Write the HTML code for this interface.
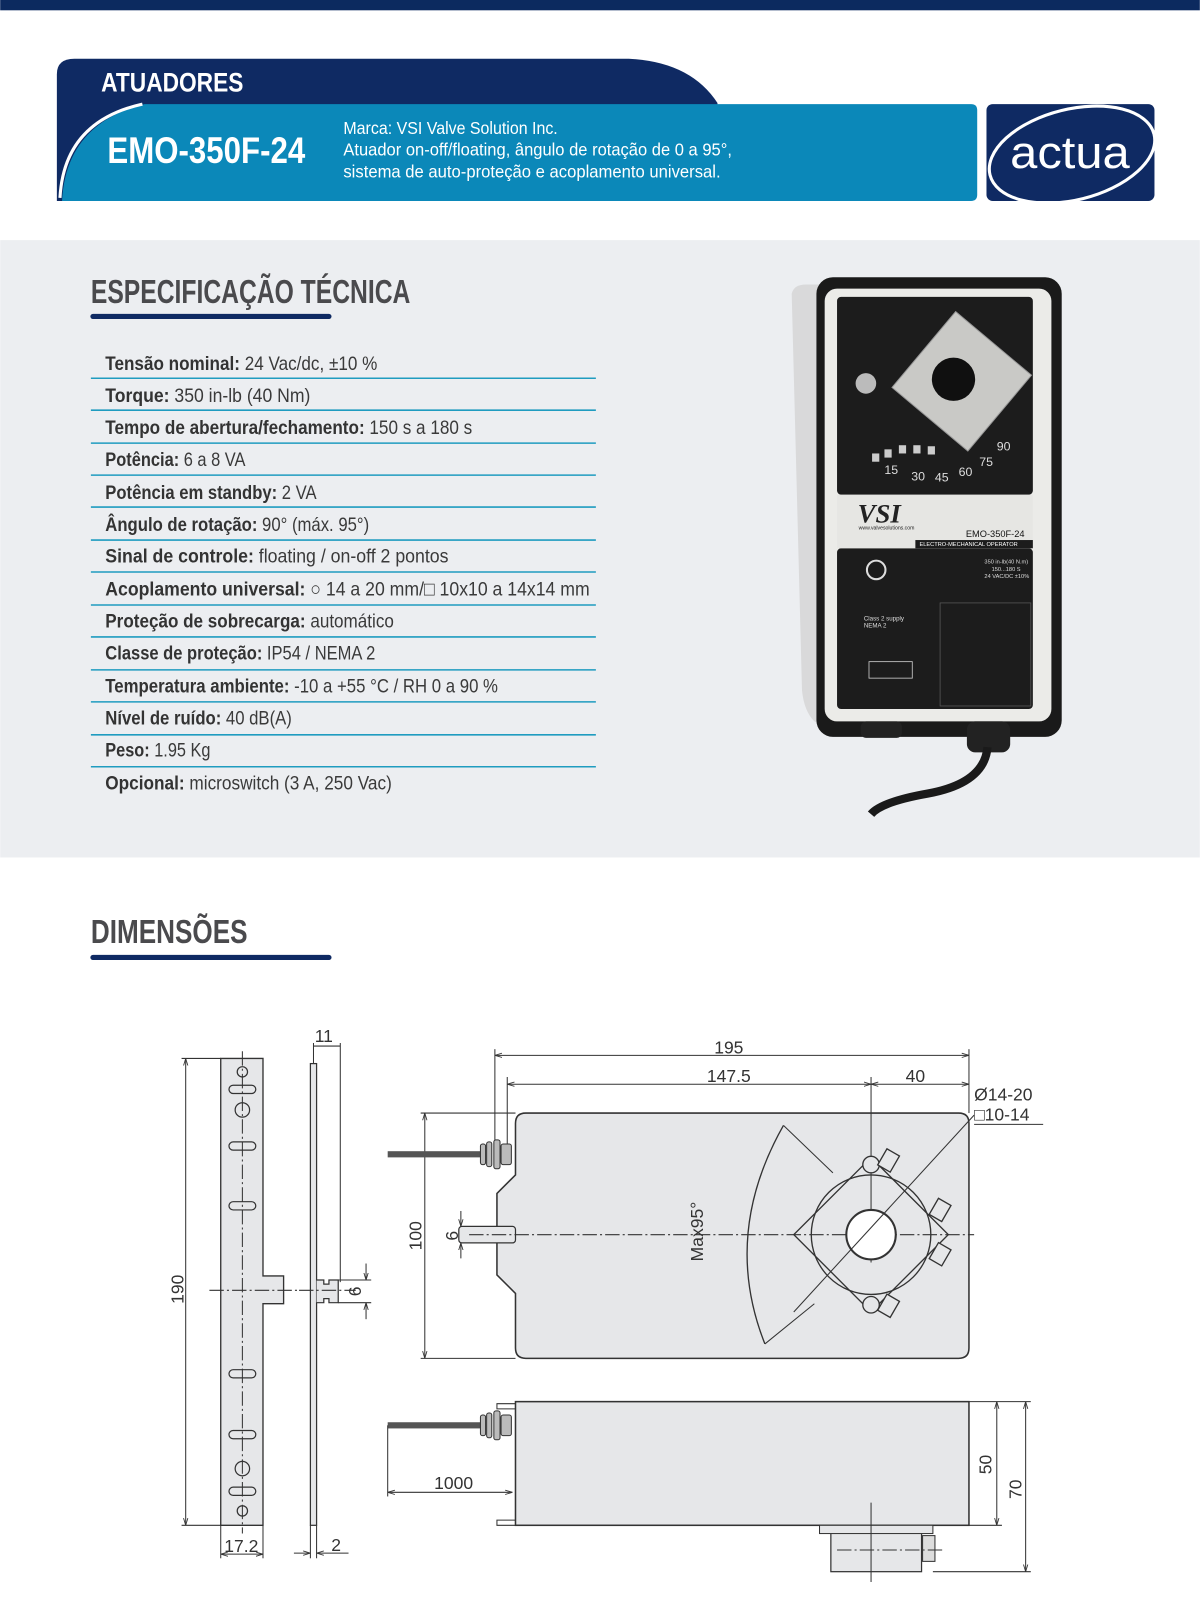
<!DOCTYPE html>
<html><head><meta charset="utf-8"><style>
html,body{margin:0;padding:0;background:#fff}
svg{display:block}
.c{font-family:"Liberation Sans",sans-serif}
.d{font-family:"Liberation Sans",sans-serif;font-size:17px;fill:#333}
.ln{stroke:#333;stroke-width:1;fill:none}
.dd{stroke:#333;stroke-width:1;fill:none;stroke-dasharray:14 3 2 3}
.rw{font-family:"Liberation Sans",sans-serif;font-size:19px;fill:#3a3a3a}
.rw tspan.b{font-weight:bold;fill:#333}
</style></head><body>
<svg width="1200" height="1616" viewBox="0 0 1164 1568" xmlns="http://www.w3.org/2000/svg">
<defs>
<marker id="a" viewBox="0 0 10 10" refX="10" refY="5" markerWidth="7" markerHeight="7" orient="auto-start-reverse"><path d="M0,2 L10,5 L0,8" fill="none" stroke="#333" stroke-width="1.2"/></marker>
</defs>
<rect width="1164" height="1568" fill="#fff"/>
<rect width="1164" height="10" fill="#0c2a5f"/>
<!-- header -->
<path d="M55,195 L55,72 Q55,57 72,57 L610,57 Q670,60 696,100 L696,195 Z" fill="#0f2a63"/>
<path d="M60,195 Q64,120 140,101 L942,101 Q948,101 948,107 L948,189 Q948,195 942,195 Z" fill="#0b88b9"/>
<path d="M58,192 Q62,118 138,101" fill="none" stroke="#fff" stroke-width="3"/>
<text x="98" y="89" class="c" font-size="26" font-weight="bold" fill="#fff" textLength="138" lengthAdjust="spacingAndGlyphs">ATUADORES</text>
<text x="104" y="158" class="c" font-size="36" font-weight="bold" fill="#fff" textLength="192" lengthAdjust="spacingAndGlyphs">EMO-350F-24</text>
<text x="333" y="130" class="c" font-size="17" fill="#fff" textLength="208" lengthAdjust="spacingAndGlyphs">Marca: VSI Valve Solution Inc.</text>
<text x="333" y="151" class="c" font-size="17" fill="#fff" textLength="377" lengthAdjust="spacingAndGlyphs">Atuador on-off/floating, ângulo de rotação de 0 a 95°,</text>
<text x="333" y="172" class="c" font-size="17" fill="#fff" textLength="366" lengthAdjust="spacingAndGlyphs">sistema de auto-proteção e acoplamento universal.</text>
<rect x="957" y="101" width="163" height="94" rx="6" fill="#0f2a63"/>
<ellipse cx="1040" cy="150" rx="82" ry="44" transform="rotate(-14 1040 150)" fill="none" stroke="#fff" stroke-width="3"/>
<text x="980" y="163" class="c" font-size="44" fill="#fff" textLength="116" lengthAdjust="spacingAndGlyphs">actua</text>
<!-- spec section -->
<rect x="0" y="233" width="1164" height="599" fill="#eceef1"/>
<text x="88" y="294" class="c" font-size="32" font-weight="bold" fill="#4a4a4d" textLength="310" lengthAdjust="spacingAndGlyphs">ESPECIFICAÇÃO TÉCNICA</text>
<line x1="90" y1="307" x2="319" y2="307" stroke="#0f2a63" stroke-width="5" stroke-linecap="round"/>
<g stroke="#1f9cc0" stroke-width="1.5">
<line x1="88" y1="367" x2="578" y2="367"/><line x1="88" y1="398" x2="578" y2="398"/><line x1="88" y1="430" x2="578" y2="430"/><line x1="88" y1="461" x2="578" y2="461"/><line x1="88" y1="492" x2="578" y2="492"/><line x1="88" y1="524" x2="578" y2="524"/><line x1="88" y1="555" x2="578" y2="555"/><line x1="88" y1="587" x2="578" y2="587"/><line x1="88" y1="618" x2="578" y2="618"/><line x1="88" y1="650" x2="578" y2="650"/><line x1="88" y1="681" x2="578" y2="681"/><line x1="88" y1="713" x2="578" y2="713"/><line x1="88" y1="744" x2="578" y2="744"/>
</g>
<text class="rw" x="102" y="359" textLength="264" lengthAdjust="spacingAndGlyphs"><tspan class="b">Tensão nominal:</tspan> 24 Vac/dc, ±10 %</text>
<text class="rw" x="102" y="390" textLength="199" lengthAdjust="spacingAndGlyphs"><tspan class="b">Torque:</tspan>  350 in-lb (40 Nm)</text>
<text class="rw" x="102" y="421" textLength="356" lengthAdjust="spacingAndGlyphs"><tspan class="b">Tempo de abertura/fechamento:</tspan> 150 s a 180 s</text>
<text class="rw" x="102" y="452" textLength="136" lengthAdjust="spacingAndGlyphs"><tspan class="b">Potência:</tspan> 6 a 8 VA</text>
<text class="rw" x="102" y="484" textLength="205" lengthAdjust="spacingAndGlyphs"><tspan class="b">Potência em standby:</tspan> 2 VA</text>
<text class="rw" x="102" y="515" textLength="256" lengthAdjust="spacingAndGlyphs"><tspan class="b">Ângulo de rotação:</tspan> 90° (máx. 95°)</text>
<text class="rw" x="102" y="546" textLength="333" lengthAdjust="spacingAndGlyphs"><tspan class="b">Sinal de controle:</tspan> floating / on-off 2 pontos</text>
<text class="rw" x="102" y="578" textLength="470" lengthAdjust="spacingAndGlyphs"><tspan class="b">Acoplamento universal:</tspan> ○ 14 a 20 mm/□  10x10 a 14x14 mm</text>
<text class="rw" x="102" y="609" textLength="280" lengthAdjust="spacingAndGlyphs"><tspan class="b">Proteção de sobrecarga:</tspan> automático</text>
<text class="rw" x="102" y="640" textLength="262" lengthAdjust="spacingAndGlyphs"><tspan class="b">Classe de proteção:</tspan> IP54 / NEMA 2</text>
<text class="rw" x="102" y="672" textLength="381" lengthAdjust="spacingAndGlyphs"><tspan class="b">Temperatura ambiente:</tspan> -10 a +55 °C / RH 0 a 90 %</text>
<text class="rw" x="102" y="703" textLength="181" lengthAdjust="spacingAndGlyphs"><tspan class="b">Nível de ruído:</tspan> 40 dB(A)</text>
<text class="rw" x="102" y="734" textLength="102" lengthAdjust="spacingAndGlyphs"><tspan class="b">Peso:</tspan> 1.95 Kg</text>
<text class="rw" x="102" y="766" textLength="278" lengthAdjust="spacingAndGlyphs"><tspan class="b">Opcional:</tspan> microswitch (3 A, 250 Vac)</text>
<!-- product photo -->
<path d="M768,285 Q770,276 782,276 L800,276 L800,705 L790,700 Q780,690 778,670 Z" fill="#d9d9da"/>
<rect x="792" y="269" width="238" height="446" rx="16" fill="#1a1a1a"/>
<rect x="800" y="280" width="220" height="420" rx="12" fill="#ebebe8"/>
<rect x="812" y="288" width="190" height="192" rx="4" fill="#1c1c1c"/>
<rect x="812" y="532" width="190" height="156" rx="4" fill="#1c1c1c"/>
<rect x="812" y="480" width="190" height="52" fill="#e6e6e3"/>
<rect x="885" y="322" width="96" height="96" transform="rotate(40 933 370)" fill="#c9c9c6" stroke="#999"/>
<circle cx="925" cy="368" r="21" fill="#101010"/>
<circle cx="840" cy="372" r="10" fill="#bbb"/>
<g fill="#ccc"><rect x="846" y="440" width="7" height="8"/><rect x="858" y="436" width="7" height="8"/><rect x="872" y="432" width="7" height="8"/><rect x="886" y="432" width="7" height="8"/><rect x="900" y="433" width="7" height="8"/></g>
<text x="832" y="507" font-family="Liberation Serif,serif" font-style="italic" font-weight="bold" font-size="26" fill="#222">VSI</text>
<text x="937" y="521" class="c" font-size="9" fill="#111">EMO-350F-24</text>
<text x="833" y="514" class="c" font-size="5" fill="#222">www.valvesolutions.com</text>
<rect x="888" y="524" width="114" height="8" fill="#1c1c1c"/>
<text x="892" y="530" class="c" font-size="5.5" fill="#fff">ELECTRO-MECHANICAL OPERATOR</text>
<circle cx="850" cy="553" r="9" fill="none" stroke="#ddd" stroke-width="2"/>
<text x="838" y="602" class="c" font-size="6" fill="#ddd">Class 2 supply</text>
<text x="838" y="609" class="c" font-size="6" fill="#ddd">NEMA 2</text>
<text x="955" y="547" class="c" font-size="5.5" fill="#ddd">350 in-lb(40 N.m)</text>
<text x="962" y="554" class="c" font-size="5.5" fill="#ddd">150...180 S</text>
<text x="955" y="561" class="c" font-size="5.5" fill="#ddd">24 VAC/DC ±10%</text>
<rect x="912" y="585" width="88" height="100" fill="none" stroke="#555" stroke-width="0.8"/>
<rect x="843" y="642" width="42" height="16" fill="none" stroke="#ccc" stroke-width="0.8"/>
<g class="c" font-size="12" fill="#ddd"><text x="858" y="460">15</text><text x="884" y="466">30</text><text x="907" y="467">45</text><text x="930" y="462">60</text><text x="950" y="452">75</text><text x="967" y="437">90</text></g>
<rect x="835" y="700" width="40" height="16" rx="5" fill="#222"/>
<rect x="938" y="700" width="42" height="30" rx="8" fill="#222"/>
<path d="M958,725 Q955,760 900,770 Q855,778 845,790" fill="none" stroke="#1a1a1a" stroke-width="8"/>
<!-- dimensions title -->
<text x="88" y="915" class="c" font-size="32" font-weight="bold" fill="#4a4a4d" textLength="152" lengthAdjust="spacingAndGlyphs">DIMENSÕES</text>
<line x1="90" y1="929" x2="319" y2="929" stroke="#0f2a63" stroke-width="5" stroke-linecap="round"/>
<!-- left bracket -->
<path d="M214,1027 L255,1027 L255,1238 L275,1238 L275,1265 L255,1265 L255,1480 L214,1480 Z" fill="#e6e7e9" stroke="#333" stroke-width="1.3"/>
<line x1="235" y1="1020" x2="235" y2="1488" class="dd"/>
<line x1="203" y1="1252" x2="290" y2="1252" class="dd"/>
<g fill="none" stroke="#333" stroke-width="1.2">
<circle cx="235" cy="1040" r="5"/><rect x="222" y="1053" width="26" height="8" rx="4"/><circle cx="235" cy="1077" r="7"/><rect x="222" y="1108" width="26" height="8" rx="4"/><rect x="222" y="1166" width="26" height="8" rx="4"/><rect x="222" y="1329" width="26" height="8" rx="4"/><rect x="222" y="1388" width="26" height="8" rx="4"/><circle cx="235" cy="1425" r="7"/><rect x="222" y="1443" width="26" height="8" rx="4"/><circle cx="235" cy="1466" r="5"/>
</g>
<line x1="180" y1="1027" x2="180" y2="1480" class="ln" marker-start="url(#a)" marker-end="url(#a)"/>
<line x1="176" y1="1027" x2="214" y2="1027" class="ln"/><line x1="176" y1="1480" x2="214" y2="1480" class="ln"/>
<text class="d" transform="translate(178,1251) rotate(-90)" text-anchor="middle">190</text>
<line x1="214" y1="1480" x2="214" y2="1512" class="ln"/><line x1="255" y1="1480" x2="255" y2="1512" class="ln"/>
<line x1="214" y1="1508" x2="255" y2="1508" class="ln" marker-start="url(#a)" marker-end="url(#a)"/>
<text class="d" x="234" y="1506" text-anchor="middle">17.2</text>
<!-- side plate -->
<rect x="301" y="1032" width="6" height="448" fill="#e6e7e9" stroke="#333" stroke-width="1.2"/>
<path d="M307,1242 L314,1242 L314,1246 L319,1246 L319,1242 L328,1242 L328,1264 L319,1264 L319,1260 L314,1260 L314,1264 L307,1264" fill="#e6e7e9" stroke="#333" stroke-width="1.2"/>
<line x1="290" y1="1252" x2="345" y2="1252" class="dd"/>
<line x1="304" y1="1012" x2="304" y2="1032" class="ln"/><line x1="330" y1="1012" x2="330" y2="1244" class="ln"/>
<line x1="304" y1="1015" x2="330" y2="1015" class="ln"/>
<text class="d" x="314" y="1011" text-anchor="middle">11</text>
<line x1="328" y1="1242" x2="360" y2="1242" class="ln"/><line x1="328" y1="1264" x2="360" y2="1264" class="ln"/>
<line x1="355" y1="1226" x2="355" y2="1242" class="ln" marker-end="url(#a)"/><line x1="355" y1="1280" x2="355" y2="1264" class="ln" marker-end="url(#a)"/>
<text class="d" transform="translate(350,1253) rotate(-90)" text-anchor="middle">6</text>
<line x1="301" y1="1480" x2="301" y2="1512" class="ln"/><line x1="307" y1="1480" x2="307" y2="1512" class="ln"/>
<line x1="285" y1="1507" x2="301" y2="1507" class="ln" marker-end="url(#a)"/><line x1="338" y1="1507" x2="307" y2="1507" class="ln" marker-end="url(#a)"/>
<text class="d" x="326" y="1505" text-anchor="middle">2</text>
<!-- main top view -->
<path d="M510,1080 L930,1080 Q940,1080 940,1090 L940,1308 Q940,1318 930,1318 L510,1318 Q500,1318 500,1308 L500,1255 L482,1237 L482,1158 L500,1140 L500,1090 Q500,1080 510,1080 Z" fill="#e6e7e9" stroke="#333" stroke-width="1.5"/>
<line x1="480" y1="1018" x2="480" y2="1120" class="ln"/><line x1="492" y1="1045" x2="492" y2="1115" class="ln"/>
<line x1="940" y1="1018" x2="940" y2="1080" class="ln"/><line x1="845" y1="1045" x2="845" y2="1225" class="ln"/>
<line x1="480" y1="1024" x2="940" y2="1024" class="ln" marker-start="url(#a)" marker-end="url(#a)"/>
<text class="d" x="707" y="1022" text-anchor="middle">195</text>
<line x1="492" y1="1052" x2="845" y2="1052" class="ln" marker-start="url(#a)" marker-end="url(#a)"/>
<text class="d" x="707" y="1050" text-anchor="middle">147.5</text>
<line x1="845" y1="1052" x2="940" y2="1052" class="ln" marker-start="url(#a)" marker-end="url(#a)"/>
<text class="d" x="888" y="1050" text-anchor="middle">40</text>
<line x1="408" y1="1080" x2="500" y2="1080" class="ln"/><line x1="408" y1="1318" x2="500" y2="1318" class="ln"/>
<line x1="412" y1="1080" x2="412" y2="1318" class="ln" marker-start="url(#a)" marker-end="url(#a)"/>
<text class="d" transform="translate(409,1199) rotate(-90)" text-anchor="middle">100</text>
<rect x="445" y="1190" width="55" height="16" rx="3" fill="#e6e7e9" stroke="#333" stroke-width="1.2"/>
<line x1="455" y1="1198" x2="945" y2="1198" class="dd"/>
<line x1="447" y1="1175" x2="447" y2="1190" class="ln" marker-end="url(#a)"/><line x1="447" y1="1221" x2="447" y2="1206" class="ln" marker-end="url(#a)"/>
<text class="d" transform="translate(444,1199) rotate(-90)" text-anchor="middle" font-size="14">6</text>
<!-- cable -->
<rect x="376" y="1117" width="90" height="6" fill="#555"/>
<g fill="#bbb" stroke="#333"><rect x="466" y="1110" width="5" height="20" rx="2"/><rect x="472" y="1108" width="5" height="24" rx="2"/><rect x="479" y="1106" width="6" height="28" rx="2"/><rect x="486" y="1110" width="10" height="20" rx="2"/></g>
<path d="M760,1092 Q700,1198 742,1304" fill="none" stroke="#333" stroke-width="1.3"/>
<line x1="760" y1="1092" x2="808" y2="1138" class="ln"/><line x1="742" y1="1304" x2="790" y2="1265" class="ln"/>
<text class="d" transform="translate(682,1195) rotate(-90)" text-anchor="middle" font-size="16">Max95°</text>
<!-- coupling -->
<g fill="none" stroke="#333" stroke-width="1.3">
<rect x="792" y="1145" width="106" height="106" transform="rotate(45 845 1198)"/>
<circle cx="845" cy="1198" r="58"/>
<circle cx="845" cy="1198" r="24" stroke-width="2" fill="#fff"/>
<circle cx="845" cy="1130" r="8" fill="#e6e7e9"/><circle cx="845" cy="1266" r="8" fill="#e6e7e9"/>
<rect x="855" y="1117" width="14" height="18" transform="rotate(30 862 1126)" fill="#e6e7e9"/>
<rect x="905" y="1165" width="14" height="18" transform="rotate(30 912 1174)" fill="#e6e7e9"/>
<rect x="905" y="1208" width="14" height="18" transform="rotate(30 912 1217)" fill="#e6e7e9"/>
<rect x="855" y="1258" width="14" height="18" transform="rotate(30 862 1267)" fill="#e6e7e9"/>
</g>
<line x1="770" y1="1273" x2="945" y2="1082" class="ln"/>
<line x1="945" y1="1091" x2="1012" y2="1091" class="ln"/>
<text class="d" x="945" y="1068">Ø14-20</text>
<text class="d" x="945" y="1087">□10-14</text>
<!-- bottom view -->
<rect x="500" y="1360" width="440" height="120" fill="#e6e7e9" stroke="#333" stroke-width="1.5"/>
<path d="M500,1362 L482,1362 L482,1367 L500,1367 M500,1475 L482,1475 L482,1480 L500,1480" fill="none" stroke="#333"/>
<rect x="376" y="1380" width="90" height="6" fill="#555"/>
<g fill="#bbb" stroke="#333"><rect x="466" y="1373" width="5" height="20" rx="2"/><rect x="472" y="1371" width="5" height="24" rx="2"/><rect x="479" y="1369" width="6" height="28" rx="2"/><rect x="486" y="1373" width="10" height="20" rx="2"/></g>
<line x1="376" y1="1383" x2="376" y2="1452" class="ln"/>
<line x1="376" y1="1448" x2="497" y2="1448" class="ln" marker-start="url(#a)" marker-end="url(#a)"/>
<text class="d" x="440" y="1445" text-anchor="middle">1000</text>
<rect x="806" y="1482" width="88" height="43" fill="#e6e7e9" stroke="#333" stroke-width="1.2"/>
<rect x="795" y="1480" width="110" height="8" fill="#e6e7e9" stroke="#333"/>
<rect x="895" y="1490" width="12" height="25" fill="#ddd" stroke="#333"/>
<line x1="845" y1="1458" x2="845" y2="1535" class="ln"/>
<line x1="812" y1="1504" x2="915" y2="1504" class="dd"/>
<line x1="940" y1="1360" x2="1000" y2="1360" class="ln"/><line x1="940" y1="1480" x2="972" y2="1480" class="ln"/><line x1="905" y1="1525" x2="1000" y2="1525" class="ln"/>
<line x1="967" y1="1360" x2="967" y2="1480" class="ln" marker-start="url(#a)" marker-end="url(#a)"/>
<text class="d" transform="translate(962,1421) rotate(-90)" text-anchor="middle">50</text>
<line x1="995" y1="1360" x2="995" y2="1525" class="ln" marker-start="url(#a)" marker-end="url(#a)"/>
<text class="d" transform="translate(991,1445) rotate(-90)" text-anchor="middle">70</text>
</svg>
</body></html>
